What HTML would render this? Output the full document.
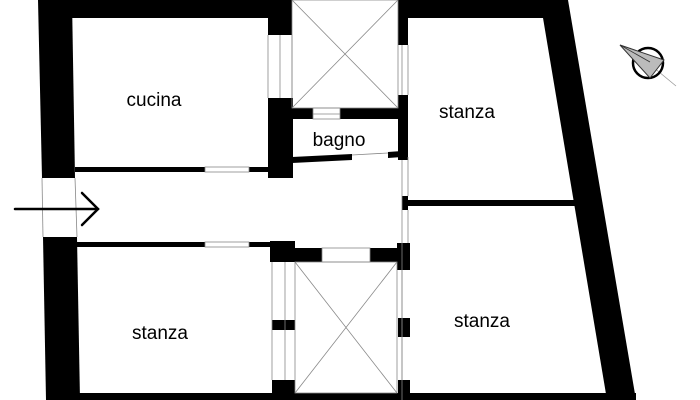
<!DOCTYPE html>
<html><head><style>body{margin:0;background:#fff}svg{display:block}</style></head><body>
<svg width="700" height="400" viewBox="0 0 700 400" xmlns="http://www.w3.org/2000/svg" font-family="Liberation Sans, sans-serif">
<rect width="700" height="400" fill="#fff"/>
<g fill="#000">
<polygon points="38,0 292,0 292,18 72,18"/>
<rect x="398" y="0" width="160" height="18"/>
<polygon points="38,0 72,0 75,178 42,178"/>
<polygon points="43,237 77,237 80,400 46,400"/>
<rect x="46" y="393" width="590" height="7"/>
<polygon points="540,0 568,0 636,400 607,400"/>
<rect x="268" y="0" width="24" height="35"/>
<rect x="268" y="98" width="25" height="80"/>
<rect x="75" y="167" width="130" height="5"/>
<rect x="249" y="167" width="22" height="5"/>
<rect x="77" y="242" width="128" height="5"/>
<rect x="249" y="242" width="22" height="5"/>
<rect x="398" y="0" width="10" height="45"/>
<rect x="398" y="95" width="10" height="65"/>
<rect x="292" y="108" width="21" height="11"/>
<rect x="340" y="108" width="66" height="11"/>
<polygon points="292,157 352,154 352,160 292,163"/>
<polygon points="388,152 402,151 402,157 388,158"/>
<rect x="402" y="200" width="174" height="6"/>
<rect x="402" y="196" width="6" height="14"/>
<rect x="270" y="241" width="25" height="21"/>
<rect x="295" y="248" width="27" height="14"/>
<rect x="370" y="248" width="40" height="14"/>
<rect x="397" y="243" width="13" height="27"/>
<rect x="272" y="320" width="23" height="10"/>
<rect x="398" y="318" width="12" height="19"/>
<rect x="272" y="380" width="23" height="20"/>
<rect x="398" y="380" width="12" height="20"/>
</g>
<g stroke="#888" stroke-width="0.8" fill="none">
<rect x="292" y="0" width="106" height="108"/>
<line x1="292" y1="0" x2="398" y2="108"/><line x1="398" y1="0" x2="292" y2="108"/>
<rect x="295" y="262" width="102" height="131"/>
<line x1="295" y1="262" x2="397" y2="393"/><line x1="397" y1="262" x2="295" y2="393"/>
<line x1="268" y1="35" x2="268" y2="98"/><line x1="280" y1="35" x2="280" y2="98"/><line x1="292" y1="35" x2="292" y2="98"/>
<rect x="205" y="167" width="44" height="5"/>
<rect x="205" y="242" width="44" height="5"/>
<rect x="313" y="108" width="27" height="11"/>
<line x1="313" y1="114" x2="340" y2="114"/>
<line x1="402" y1="45" x2="402" y2="95"/><line x1="408" y1="45" x2="408" y2="95"/>
<line x1="402" y1="160" x2="402" y2="400"/><line x1="408" y1="157" x2="408" y2="196"/>
<line x1="408" y1="210" x2="408" y2="243"/>
<rect x="322" y="248" width="48" height="14"/>
<line x1="272" y1="262" x2="272" y2="380"/><line x1="285" y1="262" x2="285" y2="380"/>
<line x1="402" y1="270" x2="402" y2="380"/>
<line x1="352" y1="155" x2="388" y2="153"/>
<line x1="42" y1="178" x2="43" y2="237"/><line x1="75" y1="178" x2="77" y2="237"/>
</g>
<g stroke="#000" stroke-width="2.5" fill="none" stroke-linecap="round">
<line x1="15" y1="209" x2="98" y2="209"/>
<polyline points="82,193 98,209 82,225"/>
</g>
<g>
<line x1="630" y1="48" x2="676" y2="86" stroke="#999" stroke-width="0.8"/>
<circle cx="648" cy="63" r="15" fill="none" stroke="#000" stroke-width="2.5"/>
<polygon points="620,45 664,60 650,78" fill="#bbb" stroke="#333" stroke-width="1"/>
<line x1="620" y1="45" x2="650" y2="62" stroke="#333" stroke-width="0.8"/>
</g>
<g font-size="19" fill="#000" text-anchor="middle">
<text x="154" y="106">cucina</text>
<text x="467" y="118">stanza</text>
<text x="339" y="146">bagno</text>
<text x="160" y="339">stanza</text>
<text x="482" y="327">stanza</text>
</g>
</svg>
</body></html>
